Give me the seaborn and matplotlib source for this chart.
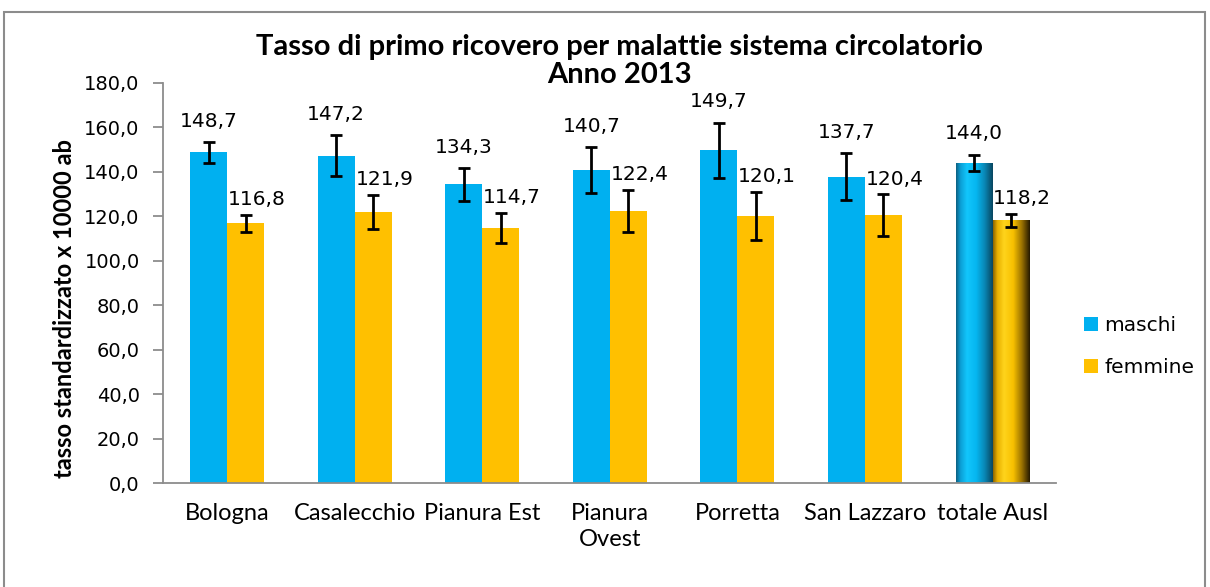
import numpy as np
import pandas as pd
import seaborn as sns
import matplotlib.pyplot as plt
from matplotlib.patches import Patch, Rectangle
from matplotlib.colors import LinearSegmentedColormap

# data
aree = ['Bologna', 'Casalecchio', 'Pianura Est', 'Pianura\nOvest', 'Porretta', 'San Lazzaro', 'totale Ausl']
maschi = [148.7, 147.2, 134.3, 140.7, 149.7, 137.7, 144.0]
femmine = [116.8, 121.9, 114.7, 122.4, 120.1, 120.4, 118.2]
err_maschi = [4.8, 9.3, 7.3, 10.4, 12.4, 10.5, 3.7]
err_femmine = [3.8, 7.7, 6.8, 9.4, 11.0, 9.4, 2.9]
serie = ['maschi', 'femmine']
yticks = [0, 20, 40, 60, 80, 100, 120, 140, 160, 180]

BLU = '#00B0F0'
GIALLO = '#FFC000'
GRIGIO = '#8c8c8c'
CALIBRI = ['Lato', 'DejaVu Sans']

df = pd.DataFrame({
    'area': aree * 2,
    'valore': maschi + femmine,
    'sesso': ['maschi'] * len(aree) + ['femmine'] * len(aree),
})

sns.set_style('white')
plt.rcParams['font.family'] = ['DejaVu Sans']
plt.rcParams['text.color'] = 'black'
plt.rcParams['axes.labelcolor'] = 'black'
plt.rcParams['xtick.color'] = 'black'
plt.rcParams['ytick.color'] = 'black'

fig = plt.figure(figsize=(12.1, 5.87), dpi=100)
ax = fig.add_axes([0.135, 0.177, 0.738, 0.682])

sns.barplot(data=df, x='area', y='valore', hue='sesso', hue_order=serie,
            palette=[BLU, GIALLO], width=0.58, gap=0, errorbar=None,
            saturation=1, linewidth=0, ax=ax, legend=False)
bars = list(ax.containers)

# error bars + value labels
errs = [err_maschi, err_femmine]
vals = [maschi, femmine]
label_dx = [0, 8]
label_dy = [8, 4]
for k, cont in enumerate(bars):
    xs = [b.get_x() + b.get_width() / 2 for b in cont]
    ax.errorbar(xs, vals[k], yerr=errs[k], fmt='none', ecolor='black',
                elinewidth=2, capsize=4.5, capthick=2, zorder=4)
    for x, v, e in zip(xs, vals[k], errs[k]):
        ax.annotate(f'{v:.1f}'.replace('.', ','), (x, v + e),
                    xytext=(label_dx[k], label_dy[k]), textcoords='offset points',
                    ha='center', va='bottom', fontsize=14.5, color='black')

# cylinder-like shading on the 'totale Ausl' bars
shades = [
    [(0, '#0d5f80'), (0.12, '#0b9ed4'), (0.3, '#12c6fc'), (0.55, '#05b6f0'),
     (0.78, '#0a86b4'), (1, '#08455f')],
    [(0, '#8a6400'), (0.12, '#e8b000'), (0.3, '#ffd41c'), (0.55, '#f8c000'),
     (0.78, '#9c7300'), (1, '#241800')],
]
for k, cont in enumerate(bars):
    bar = cont[-1]
    cmap = LinearSegmentedColormap.from_list(f'cyl{k}', shades[k])
    grad = np.linspace(0, 1, 256).reshape(1, -1)
    x0, w, h = bar.get_x(), bar.get_width(), bar.get_height()
    im = ax.imshow(grad, cmap=cmap, aspect='auto',
                   extent=[x0, x0 + w, 0, h], zorder=bar.get_zorder() + 0.1)
    im.set_clip_path(bar)

ax.set_xlim(-0.5, len(aree) - 0.5)
ax.set_ylim(0, 180)
ax.set_yticks(yticks)
ax.set_yticklabels([f'{t:.1f}'.replace('.', ',') for t in yticks], fontsize=14)
ax.set_xticks(range(len(aree)))
ax.set_xticklabels(aree, fontsize=17, family=CALIBRI, linespacing=1.3)
ax.set_xticks(np.arange(-0.5, len(aree)), minor=True)
ax.tick_params(axis='x', which='major', length=0, pad=14)
ax.tick_params(axis='x', which='minor', length=7, color=GRIGIO, width=1.3)
ax.tick_params(axis='y', length=7, color=GRIGIO, width=1.3, left=True, pad=10)
for s in ['top', 'right']:
    ax.spines[s].set_visible(False)
for s in ['left', 'bottom']:
    ax.spines[s].set_color(GRIGIO)
    ax.spines[s].set_linewidth(1.3)

ax.set_xlabel('')
ax.set_ylabel('tasso standardizzato x 10000 ab', fontsize=17, fontweight='bold',
              family=CALIBRI)
ax.yaxis.set_label_coords(-0.098, 0.435)

fig.text(0.512, 0.92, 'Tasso di primo ricovero per malattie sistema circolatorio',
         ha='center', va='center', fontsize=21, fontweight='bold', family=CALIBRI)
fig.text(0.512, 0.872, 'Anno 2013', ha='center', va='center', fontsize=21,
         fontweight='bold', family=CALIBRI)

handles = [Patch(facecolor=BLU, edgecolor='none'), Patch(facecolor=GIALLO, edgecolor='none')]
fig.legend(handles, serie, loc='center left', bbox_to_anchor=(0.881, 0.41),
           frameon=False, fontsize=14.5, handlelength=0.7, handleheight=0.7,
           handletextpad=0.3, labelspacing=1.15)

# outer chart border
fig.patches.append(Rectangle((0.0035, -0.05), 0.992, 1.03, transform=fig.transFigure,
                             fill=False, edgecolor=GRIGIO, linewidth=1.5))

fig.savefig('out.png', dpi=100)
